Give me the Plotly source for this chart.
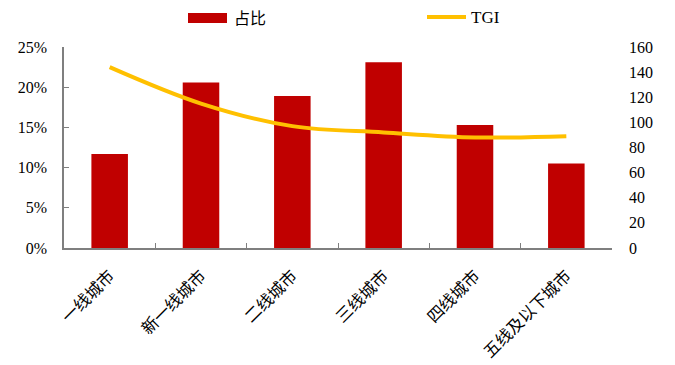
import plotly.graph_objects as go

# City tiers and their values
cities = ["一线城市", "新一线城市", "二线城市", "三线城市", "四线城市", "五线及以下城市"]
share = [0.117, 0.206, 0.189, 0.231, 0.153, 0.105]   # 占比
tgi = [144, 115, 97, 92, 88, 89]                     # TGI

BAR_COLOR = "#C00000"
LINE_COLOR = "#FFC000"
AXIS_COLOR = "#7F7F7F"
NUM_FONT = "Liberation Serif, Times New Roman, serif"
CJK_FONT = "Noto Sans CJK SC, sans-serif"

fig = go.Figure()
fig.add_trace(go.Bar(
    x=cities, y=share, name="占比",
    marker=dict(color=BAR_COLOR, line=dict(width=0)),
    yaxis="y",
))
fig.add_trace(go.Scatter(
    x=cities, y=tgi, name="TGI", mode="lines",
    line=dict(color=LINE_COLOR, width=4, shape="spline", smoothing=1.0),
    yaxis="y2",
))

# Legend drawn as swatches + labels above the plot area
W, H = 675, 365
L, R, T, B = 64, 63, 47, 117
pw, ph = W - L - R, H - T - B


def px(x):
    return (x - L) / pw


def py(y):
    return (H - B - y) / ph


shapes = [
    dict(type="rect", xref="paper", yref="paper",
         x0=px(188), x1=px(227), y0=py(23), y1=py(13),
         fillcolor=BAR_COLOR, line=dict(width=0)),
    dict(type="line", xref="paper", yref="paper",
         x0=px(427), x1=px(466), y0=py(17), y1=py(17),
         line=dict(color=LINE_COLOR, width=4)),
]
annotations = [
    dict(xref="paper", yref="paper", x=px(232), y=py(17), text="占比",
         showarrow=False, xanchor="left", yanchor="middle",
         font=dict(family=CJK_FONT, size=16, color="#000")),
    dict(xref="paper", yref="paper", x=px(469), y=py(17), text="TGI",
         showarrow=False, xanchor="left", yanchor="middle",
         font=dict(family=NUM_FONT, size=17, color="#000")),
]

fig.update_layout(
    width=W, height=H,
    margin=dict(l=L, r=R, t=T, b=B),
    paper_bgcolor="white", plot_bgcolor="white",
    showlegend=False,
    bargap=0.6,
    shapes=shapes,
    annotations=annotations,
    xaxis=dict(
        type="category", automargin=False,
        showline=True, linecolor=AXIS_COLOR, linewidth=1.5,
        ticks="inside", tickson="boundaries", ticklen=5, tickcolor=AXIS_COLOR,
        tickangle=-45,
        tickfont=dict(family=CJK_FONT, size=16.5, color="#000"),
        ticklabelstandoff=10,
        showgrid=False, zeroline=False,
    ),
    yaxis=dict(
        range=[0, 0.25], dtick=0.05, tickformat=".0%", automargin=False,
        showline=True, linecolor=AXIS_COLOR, linewidth=1.5,
        ticks="inside", ticklen=5, tickcolor=AXIS_COLOR,
        tickfont=dict(family=NUM_FONT, size=16, color="#000"),
        ticklabelstandoff=12,
        showgrid=False, zeroline=False,
    ),
    yaxis2=dict(
        range=[0, 160], dtick=20, overlaying="y", side="right", automargin=False,
        showline=False, ticks="",
        tickfont=dict(family=NUM_FONT, size=16, color="#000"),
        ticklabelstandoff=16,
        showgrid=False, zeroline=False,
    ),
)

fig.write_html("out.html")
